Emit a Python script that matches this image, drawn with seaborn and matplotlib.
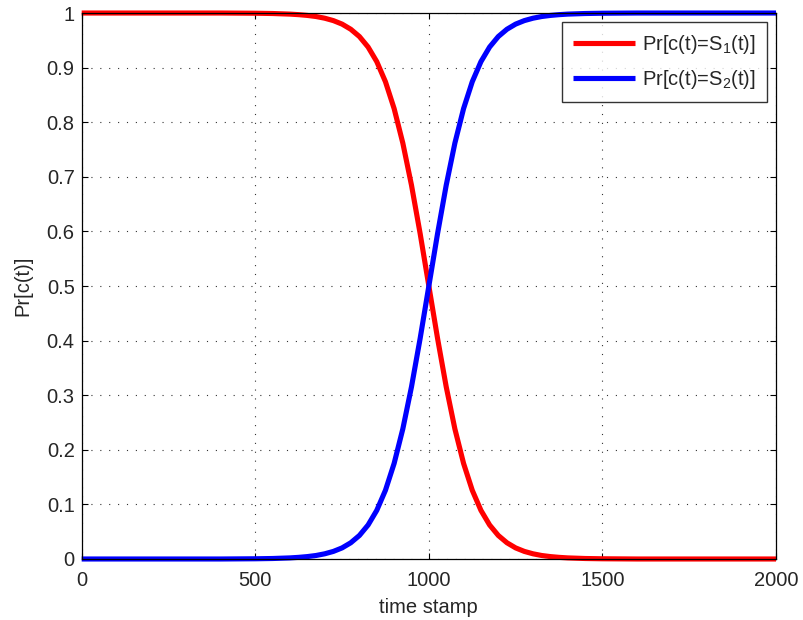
import numpy as np
import pandas as pd
import matplotlib
matplotlib.use("Agg")
import matplotlib.pyplot as plt
import seaborn as sns

sns.set_style("white")
plt.rcParams['font.family'] = ['Liberation Sans', 'DejaVu Sans']
plt.rcParams['mathtext.default'] = 'regular'
plt.rcParams['font.size'] = 14.5

# values
t = [0, 100, 200, 300, 400, 500, 550, 600, 625, 650, 675, 700, 725, 750, 775, 800, 825, 850,
     875, 900, 925, 950, 975, 1000, 1025, 1050, 1075, 1100, 1125, 1150, 1175, 1200, 1225,
     1250, 1275, 1300, 1325, 1350, 1375, 1400, 1450, 1500, 1600, 1700, 1800, 1900, 2000]
p1 = [1.0, 1.0, 1.0, 1.0, 1.0, 0.9996, 0.9991, 0.998, 0.997, 0.9956, 0.9936, 0.9905,
      0.9861, 0.9797, 0.9703, 0.9569, 0.9377, 0.9109, 0.8741, 0.8249, 0.7618, 0.6846,
      0.5957, 0.5, 0.4043, 0.3154, 0.2382, 0.1751, 0.1259, 0.0891, 0.0623, 0.0431, 0.0297,
      0.0203, 0.0139, 0.0095, 0.0064, 0.0044, 0.003, 0.002, 0.0009, 0.0004, 0.0, 0.0, 0.0,
      0.0, 0.0]
p2 = [0.0, 0.0, 0.0, 0.0, 0.0, 0.0004, 0.0009, 0.002, 0.003, 0.0044, 0.0064, 0.0095,
      0.0139, 0.0203, 0.0297, 0.0431, 0.0623, 0.0891, 0.1259, 0.1751, 0.2382, 0.3154,
      0.4043, 0.5, 0.5957, 0.6846, 0.7618, 0.8249, 0.8741, 0.9109, 0.9377, 0.9569, 0.9703,
      0.9797, 0.9861, 0.9905, 0.9936, 0.9956, 0.997, 0.998, 0.9991, 0.9996, 1.0, 1.0, 1.0,
      1.0, 1.0]

df = pd.DataFrame({'t': t, 'p1': p1, 'p2': p2})

fig = plt.figure(figsize=(8.04, 6.2), dpi=100)
ax = fig.add_axes([0.1016, 0.0984, 0.8636, 0.8806])
sns.lineplot(data=df, x='t', y='p1', color='#ff0000', lw=3.7, ax=ax,
             label='Pr[c(t)=S$_1$(t)]', clip_on=False, solid_capstyle='butt')
sns.lineplot(data=df, x='t', y='p2', color='#0000ff', lw=3.7, ax=ax,
             label='Pr[c(t)=S$_2$(t)]', clip_on=False, solid_capstyle='butt')

ax.set_xlim(0, 2000)
ax.set_ylim(0, 1)
ax.set_xticks(np.arange(0, 2001, 500))
ax.set_yticks(np.round(np.arange(0, 1.01, 0.1), 1))
ax.set_yticklabels(['0', '0.1', '0.2', '0.3', '0.4', '0.5', '0.6', '0.7', '0.8', '0.9', '1'])
ax.grid(True, linestyle=(0, (1, 7)), color='#333333', lw=0.8)
ax.tick_params(direction='in', length=4, width=0.8, color='black', labelsize=14.5,
               top=True, right=True, bottom=True, left=True, pad=5)
ax.tick_params(axis='x', pad=8.5)
for s in ax.spines.values():
    s.set_color('black')
    s.set_linewidth(0.9)
ax.set_xlabel('time stamp', fontsize=14.5, labelpad=6)
ax.set_ylabel('Pr[c(t)]', fontsize=14.5, labelpad=10)

leg = ax.legend(loc='upper right', fontsize=14.5, handlelength=3.1, handletextpad=0.35,
                labelspacing=0.6, borderpad=0.55, frameon=True, fancybox=False,
                edgecolor='black', borderaxespad=0.45)
leg.get_frame().set_linewidth(1.0)

fig.savefig('out.png', dpi=100)
